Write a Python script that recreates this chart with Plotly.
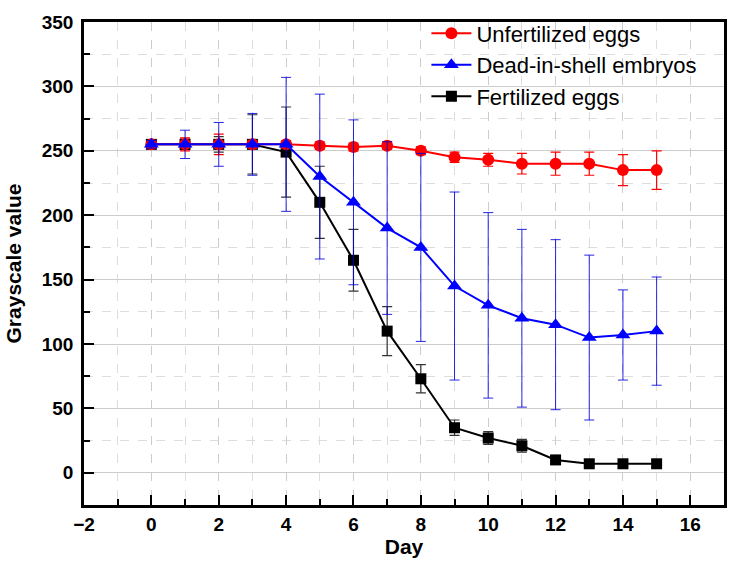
import plotly.graph_objects as go

days = list(range(16))

unfert = [255, 255, 255, 255, 255, 254, 253, 254, 250, 245, 243, 240, 240, 240, 235, 235]
unfert_err = [3, 5, 8, 3, 3, 3, 3, 3, 3, 4, 5, 8, 9, 9, 12, 15]

dead = [255, 255, 255, 255, 255, 230, 210, 190, 175, 145, 130, 120, 115, 105, 107, 110]
dead_err = [3, 11, 17, 24, 52, 64, 64, 67, 73, 73, 72, 69, 66, 64, 35, 42]

fert = [255, 255, 255, 255, 249, 210, 165, 110, 73, 35, 27, 21, 10, 7, 7, 7]
fert_err = [2, 4, 6, 23, 35, 28, 24, 19, 11, 6, 5, 5, 3, 2, 2, 2]

names = ["Unfertilized eggs", "Dead-in-shell embryos", "Fertilized eggs"]

FONT = "Liberation Sans, Arial"

fig = go.Figure()

fig.add_trace(go.Scatter(
    x=days, y=fert, name=names[2], mode="lines+markers",
    line=dict(color="black", width=2),
    marker=dict(symbol="square", size=11, color="black"),
    error_y=dict(type="data", array=fert_err, color="#333333", thickness=1.2, width=5),
    legendrank=3, legendgroup="c",
))
fig.add_trace(go.Scatter(
    x=days, y=unfert, name=names[0], mode="lines+markers",
    line=dict(color="#ff0000", width=2),
    marker=dict(symbol="circle", size=12, color="#ff0000"),
    error_y=dict(type="data", array=unfert_err, color="#ff0000", thickness=1.2, width=5),
    legendrank=1, legendgroup="a",
))
fig.add_trace(go.Scatter(
    x=days, y=dead, name=names[1], mode="lines+markers",
    line=dict(color="#0000ff", width=2),
    marker=dict(symbol="triangle-up", size=13, color="#0000ff"),
    error_y=dict(type="data", array=dead_err, color="rgba(0,0,220,0.85)", thickness=1, width=5),
    legendrank=2, legendgroup="b",
))

axis_common = dict(
    showline=True, linecolor="black", linewidth=2.5, mirror=True,
    ticks="inside", ticklen=10, tickwidth=2, tickcolor="black",
    tickfont=dict(family=FONT, size=19, color="black", weight="bold"),
    zeroline=False, showgrid=True, gridcolor="#cccccc", gridwidth=1,
    automargin=False,
)

fig.update_xaxes(
    **axis_common,
    range=[-2, 17], dtick=2, tick0=0, griddash="dash",
    minor=dict(dtick=1, ticks="inside", ticklen=6, tickwidth=2, tickcolor="black",
               showgrid=True, gridcolor="#dddddd", griddash="dash", gridwidth=1),
    ticklabelstandoff=0,
    title=dict(text="Day", font=dict(family=FONT, size=21, color="black", weight="bold"), standoff=2),
)
fig.update_yaxes(
    **axis_common,
    range=[-25, 350], dtick=50, tick0=0, griddash="solid",
    minor=dict(dtick=25, ticks="inside", ticklen=6, tickwidth=2, tickcolor="black",
               showgrid=True, gridcolor="#dddddd", griddash="dash", gridwidth=1),
    ticklabelstandoff=4,
    title=dict(text="Grayscale value", font=dict(family=FONT, size=21, color="black", weight="bold")),
)

fig.update_layout(
    width=737, height=566,
    margin=dict(l=84, r=13, t=18, b=61),
    plot_bgcolor="white", paper_bgcolor="white",
    font=dict(family=FONT, color="black"),
    legend=dict(x=0.535, y=1.02, xanchor="left", yanchor="top",
                bgcolor="rgba(0,0,0,0)", borderwidth=0,
                font=dict(family=FONT, size=22, color="black"),
                traceorder="grouped", tracegroupgap=0, itemwidth=40),
)

fig.write_html("out.html", config={"displayModeBar": False},
               post_script="document.body.style.margin='0';")
